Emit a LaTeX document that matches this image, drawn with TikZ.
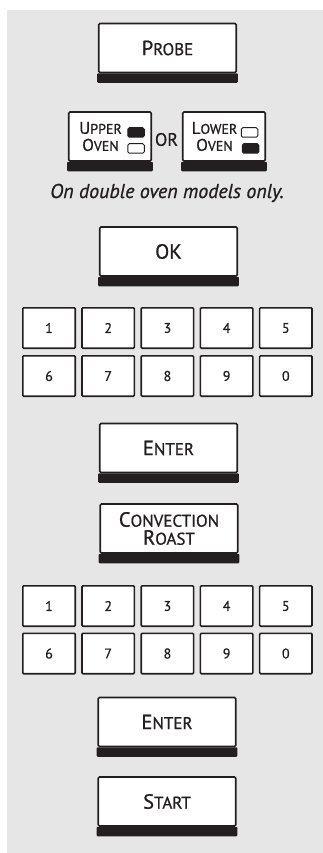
\documentclass[tikz,border=0pt]{standalone}
\usepackage{fontspec}
\setmainfont{PT Sans}[FakeBold=0.9]
\usetikzlibrary{positioning}
\definecolor{ink}{RGB}{35,31,32}
\definecolor{panel}{RGB}{230,230,230}
% big capital + small capitals, as printed on the keys
\newcommand{\keycap}[2]{{\fontsize{20.5}{20}\selectfont #1}{\fontsize{17}{20}\selectfont #2}}
\newcommand{\ovencap}[2]{{\fontsize{17}{17}\selectfont #1}{\fontsize{14}{17}\selectfont #2}}

\begin{document}
\begin{tikzpicture}[
    x=1pt, y=-1pt,
    key/.style={draw=ink, line width=1.6pt, fill=white, rounded corners=1.2pt, minimum width=137.5pt, minimum height=49pt, inner sep=0pt, text=ink},
    ovenkey/.style={key, minimum width=82.5pt, font=\fontsize{14}{17}\selectfont, align=center},
    numkey/.style={draw=ink, line width=1.6pt, fill=white, rounded corners=1pt, minimum width=52.4pt, minimum height=40.4pt, inner sep=0pt, text=ink, font=\fontsize{14}{14}\selectfont},
    lamp/.style={draw=ink, line width=1pt, rounded corners=1.5pt, minimum width=16.5pt, minimum height=9.5pt, inner sep=0pt},
]
    \useasboundingbox (0,0) rectangle (323,853);
    \fill[panel] (7,10) rectangle (323,853);

    \node[key] (probe) at (167.5,48) {\keycap{P}{ROBE}};

    % oven selection
    \node[ovenkey] (upper) at (110,136.5) {\ovencap{U}{PPER}\hspace*{19pt}\\\ovencap{O}{VEN}\hspace*{19pt}};
    \node[ovenkey] (lower) at (224,136.5) {\ovencap{L}{OWER}\hspace*{19pt}\\\ovencap{O}{VEN}\hspace*{19pt}};
    \node[lamp, fill=ink] (uplamp) at (136,132.5) {};
    \node[lamp, fill=white] (upoff) at (136,148.5) {};
    \node[lamp, fill=white] (lowoff) at (249.5,132.5) {};
    \node[lamp, fill=ink] (lowlamp) at (250.5,148.5) {};
    \node[text=ink, font=\fontsize{18}{18}\selectfont] (or) at (166.5,139.5) {OR};
    \node[anchor=base, text=ink, font=\itshape\fontsize{20}{20}\selectfont] (note) at (167,198) {On double oven models only.};

    \node[key] (ok) at (168.5,251.5) {\fontsize{20.5}{20}\selectfont OK};

    % first number pad
    \foreach \n [count=\c from 0] in {1,2,3,4,5}
        \node[numkey] (a\n) at (49+59.2*\c,328) {\n};
    \foreach \n [count=\c from 0] in {6,7,8,9,0}
        \node[numkey] (a\n) at (49+59.2*\c,376) {\n};

    \node[key] (enter) at (168.5,448) {\keycap{E}{NTER}};
    \node[key, align=center, font=\fontsize{17}{18}\selectfont] (convect) at (169,528.5) {\keycap{C}{ONVECTION}\\\keycap{R}{OAST}};

    % second number pad
    \foreach \n [count=\c from 0] in {1,2,3,4,5}
        \node[numkey] (b\n) at (49+59.2*\c,606) {\n};
    \foreach \n [count=\c from 0] in {6,7,8,9,0}
        \node[numkey] (b\n) at (49+59.2*\c,653.5) {\n};

    \node[key] (entertwo) at (167,722) {\keycap{E}{NTER}};
    \node[key] (start) at (167,801.5) {\keycap{S}{TART}};

    % dark lower edge of every large key
    \foreach \k in {probe,upper,lower,ok,enter,convect,entertwo,start}
        \fill[ink, rounded corners=1pt] ([xshift=-0.8pt]\k.south west) rectangle ([xshift=0.8pt,yshift=-9.5pt]\k.south east);
\end{tikzpicture}
\end{document}
